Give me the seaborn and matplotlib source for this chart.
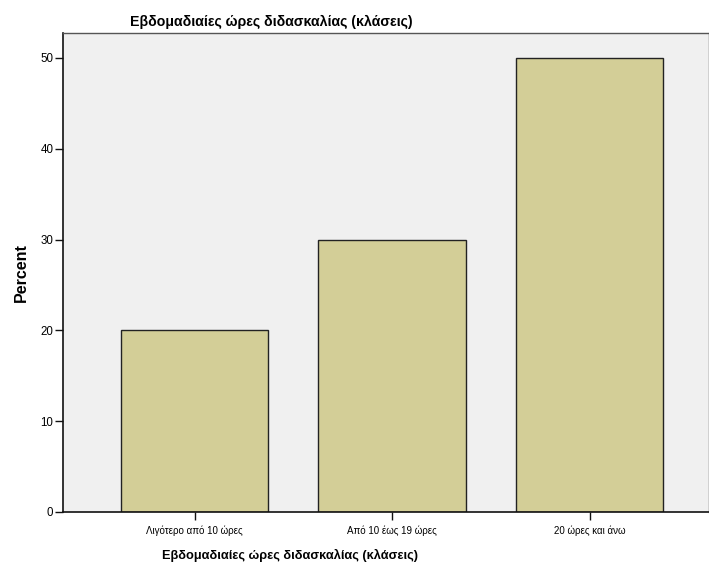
import matplotlib
matplotlib.use("Agg")
import matplotlib.pyplot as plt
import seaborn as sns
import pandas as pd

# Datos
categorias = ["Λιγότερο από 10 ώρες", "Από 10 έως 19 ώρες", "20 ώρες και άνω"]
porcentajes = [20, 30, 50]

data = pd.DataFrame({"cat": categorias, "pct": porcentajes})

sns.set_style("white")
plt.rcParams['font.family'] = ['Liberation Sans', 'DejaVu Sans']
plt.rcParams['text.color'] = 'black'
plt.rcParams['axes.labelcolor'] = 'black'
plt.rcParams['xtick.color'] = 'black'
plt.rcParams['ytick.color'] = 'black'

fig = plt.figure(figsize=(7.09, 5.65), dpi=100)
ax = fig.add_axes([63 / 709, 53 / 565, 1 - 63 / 709, (512 - 33) / 565])
ax.set_facecolor("#F0F0F0")

sns.barplot(data=data, x="cat", y="pct", ax=ax, color="#D3CE97", saturation=1,
            width=0.745, edgecolor="#222222", linewidth=1)

ax.set_xlim(-0.666, 2.605)
ax.set_ylim(0, 52.75)
ax.set_yticks([0, 10, 20, 30, 40, 50])

for s in ["left", "bottom"]:
    ax.spines[s].set_color("#111111")
    ax.spines[s].set_linewidth(1.2)
for s in ["top", "right"]:
    ax.spines[s].set_color("#555555")
    ax.spines[s].set_linewidth(1)

ax.tick_params(axis="both", direction="out", length=6, width=1, color="#111111",
               pad=1, left=True, bottom=True)
ax.tick_params(axis="x", labelsize=7, pad=4)
ax.tick_params(axis="y", labelsize=8.3)

ax.set_title("Εβδομαδιαίες ώρες διδασκαλίας (κλάσεις)", fontsize=10.2,
             fontweight="bold", pad=5, x=(271 - 63) / 646)
ax.set_xlabel("Εβδομαδιαίες ώρες διδασκαλίας (κλάσεις)", fontsize=9.2,
              fontweight="bold", labelpad=9)
ax.xaxis.label.set_x((290 - 63) / 646)
ax.set_ylabel("Percent", fontsize=11.5, fontweight="bold", labelpad=8)

fig.savefig("out.png", dpi=100)
